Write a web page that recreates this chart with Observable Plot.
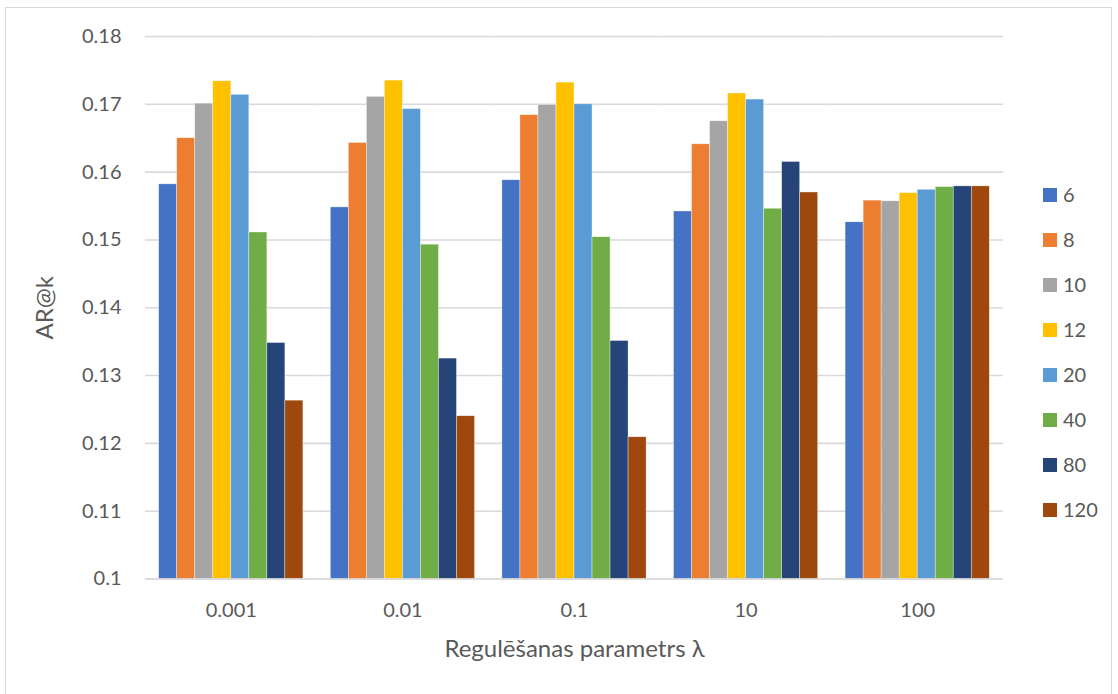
<!DOCTYPE html>
<html>
<head>
<meta charset="utf-8">
<script src="https://cdn.jsdelivr.net/npm/d3@7"></script>
<script src="https://cdn.jsdelivr.net/npm/@observablehq/plot@0.6"></script>
<style>
  html, body { margin: 0; padding: 0; background: #ffffff; }
  #wrap { position: relative; width: 1118px; height: 694px; overflow: hidden; font-family: Lato, "Open Sans", sans-serif; }
  #frame { position: absolute; left: 5px; top: 7px; width: 1107px; height: 700px; border: 1px solid #d9d9d9; box-sizing: border-box; }
  #chart { position: absolute; left: 0; top: 0; }
  #legend { position: absolute; left: 1043px; top: 172px; }
  .item { position: relative; height: 45px; }
  .sw { position: absolute; left: 0; top: 16px; width: 14px; height: 14px; }
  .lb { position: absolute; left: 20px; top: 10px; font-size: 20px; line-height: 24px; color: #595959; }
</style>
</head>
<body>
<div id="wrap">
  <div id="frame"></div>
  <div id="chart"></div>
  <div id="legend"></div>
</div>
<script>
// Regularisation parameter values (groups) and list lengths k (series)
const lambdas = ["0.001", "0.01", "0.1", "10", "100"];
const kValues = ["6", "8", "10", "12", "20", "40", "80", "120"];
const seriesColors = ["#4472C4", "#ED7D31", "#A5A5A5", "#FFC000", "#5B9BD5", "#70AD47", "#264478", "#9E480E"];
const yTicks = [0.1, 0.11, 0.12, 0.13, 0.14, 0.15, 0.16, 0.17, 0.18];

// AR@k per lambda, one array per k
const k6   = [0.1582, 0.1548, 0.1588, 0.1542, 0.1526];
const k8   = [0.1650, 0.1643, 0.1684, 0.1641, 0.1558];
const k10  = [0.1701, 0.1711, 0.1699, 0.1675, 0.1557];
const k12  = [0.1734, 0.1735, 0.1732, 0.1716, 0.1569];
const k20  = [0.1714, 0.1693, 0.1700, 0.1707, 0.1574];
const k40  = [0.1511, 0.1493, 0.1504, 0.1546, 0.1578];
const k80  = [0.1348, 0.1325, 0.1351, 0.1615, 0.1579];
const k120 = [0.1263, 0.1240, 0.1209, 0.1570, 0.1579];

const series = [k6, k8, k10, k12, k20, k40, k80, k120];
const rows = [];
lambdas.forEach((lam, i) => {
  kValues.forEach((k, j) => rows.push({lambda: lam, k, value: series[j][i]}));
});

const chart = Plot.plot({
  width: 1118,
  height: 694,
  marginLeft: 145,
  marginRight: 115,
  marginTop: 36,
  marginBottom: 115.5,
  style: {fontFamily: "Lato, 'Open Sans', sans-serif", fontSize: "20px", color: "#595959", background: "transparent"},
  fx: {domain: lambdas, padding: 0, round: false},
  x: {domain: kValues, paddingInner: 0, paddingOuter: 0.76, round: false},
  y: {domain: [yTicks[0], yTicks[yTicks.length - 1]]},
  color: {domain: kValues, range: seriesColors},
  marks: [
    Plot.ruleY(yTicks.slice(1), {stroke: "#d9d9d9", strokeWidth: 1.6}),
    Plot.barY(rows, {
      fx: "lambda", x: "k", y1: yTicks[0], y2: "value", fill: "k",
      stroke: "#ffffff", strokeWidth: 0.6, strokeOpacity: 0.6
    }),
    Plot.ruleY([yTicks[0]], {stroke: "#d0d0d0", strokeWidth: 1.6}),
    Plot.axisX({ticks: [], label: null}),
    // category tick labels
    Plot.axisFx({anchor: "bottom", tickSize: 0, tickPadding: 24, label: null}),
    // x axis title
    Plot.axisFx({
      anchor: "bottom", ticks: [], fontSize: 24,
      label: "Regulēšanas parametrs λ", labelAnchor: "center", labelArrow: "none", labelOffset: 78
    }),
    // value tick labels
    Plot.axisY({ticks: yTicks, tickFormat: d => String(d), tickSize: 0, tickPadding: 24, label: null}),
    // y axis title
    Plot.axisY({
      ticks: [], fontSize: 24,
      label: "AR@k", labelAnchor: "center", labelArrow: "none", labelOffset: 110
    })
  ]
});
document.getElementById("chart").appendChild(chart);

// Legend, built from the same series and colours
const legend = document.getElementById("legend");
kValues.forEach((k, j) => {
  const item = document.createElement("div");
  item.className = "item";
  const sw = document.createElement("div");
  sw.className = "sw";
  sw.style.background = seriesColors[j];
  const lb = document.createElement("div");
  lb.className = "lb";
  lb.textContent = k;
  item.appendChild(sw);
  item.appendChild(lb);
  legend.appendChild(item);
});
</script>
</body>
</html>
